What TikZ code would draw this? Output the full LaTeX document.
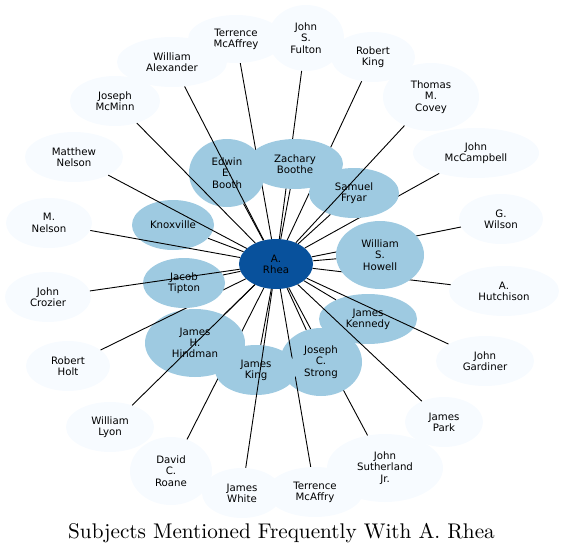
\documentclass[tikz,border=0pt]{standalone}
\usepackage{fontspec}
\newfontfamily\nodefont{DejaVu Sans}
\newfontfamily\titlefont{lmroman10-regular.otf}
\usetikzlibrary{shapes.geometric}
\definecolor{pale}{HTML}{F7FBFF}
\definecolor{mid}{HTML}{9ECAE1}
\definecolor{deep}{HTML}{08519C}
\tikzset{
  nd/.style={ellipse, inner sep=0pt, align=center, font=\nodefont\fontsize{10.2}{11.3}\selectfont},
  lo/.style={nd, fill=pale},
  hi/.style={nd, fill=mid},
  ctr/.style={nd, fill=deep},
  ed/.style={draw=black, line width=0.9pt},
}
\begin{document}
\begin{tikzpicture}[x=1pt,y=-1pt]
\useasboundingbox (0,0) rectangle (564,554);
\node[ctr, minimum width=74pt, minimum height=50pt] (rhea) at (276,264) {A.\\Rhea};

\node[lo, minimum width=96pt, minimum height=48pt] (tmtop) at (236,39) {Terrence\\McAffrey};
\draw[ed] (rhea) -- (tmtop);
\node[lo, minimum width=76pt, minimum height=66pt] (fulton) at (306,38) {John\\S.\\Fulton};
\draw[ed] (rhea) -- (fulton);
\node[lo, minimum width=84pt, minimum height=50pt] (rking) at (373,57) {Robert\\King};
\draw[ed] (rhea) -- (rking);
\node[hi, minimum width=82pt, minimum height=50pt] (knox) at (173,225) {Knoxville};
\draw[ed] (rhea) -- (knox);
\node[lo, minimum width=98pt, minimum height=50pt] (mnelson) at (74,157) {Matthew\\Nelson};
\draw[ed] (rhea) -- (mnelson);
\node[hi, minimum width=76pt, minimum height=68pt] (edwin) at (227,173) {Edwin\\E.\\Booth};
\draw[ed] (rhea) -- (edwin);
\node[hi, minimum width=96pt, minimum height=50pt] (zach) at (295,164) {Zachary\\Boothe};
\draw[ed] (rhea) -- (zach);
\node[lo, minimum width=110pt, minimum height=50pt] (walex) at (172,62) {William\\Alexander};
\draw[ed] (rhea) -- (walex);
\node[lo, minimum width=90pt, minimum height=50pt] (mcminn) at (115,101) {Joseph\\McMinn};
\draw[ed] (rhea) -- (mcminn);
\node[lo, minimum width=126pt, minimum height=50pt] (mccamp) at (476,153) {John\\McCampbell};
\draw[ed] (rhea) -- (mccamp);
\node[hi, minimum width=90pt, minimum height=50pt] (fryar) at (354,193) {Samuel\\Fryar};
\draw[ed] (rhea) -- (fryar);
\node[lo, minimum width=96pt, minimum height=68pt] (covey) at (431,97) {Thomas\\M.\\Covey};
\draw[ed] (rhea) -- (covey);
\node[lo, minimum width=84pt, minimum height=50pt] (gwilson) at (501,219) {G.\\Wilson};
\draw[ed] (rhea) -- (gwilson);
\node[lo, minimum width=110pt, minimum height=50pt] (hutch) at (504,291) {A.\\Hutchison};
\draw[ed] (rhea) -- (hutch);
\node[hi, minimum width=88pt, minimum height=68pt] (howell) at (380,255) {William\\S.\\Howell};
\draw[ed] (rhea) -- (howell);
\node[hi, minimum width=98pt, minimum height=50pt] (kennedy) at (368,319) {James\\Kennedy};
\draw[ed] (rhea) -- (kennedy);
\node[lo, minimum width=98pt, minimum height=50pt] (gardiner) at (485,361) {John\\Gardiner};
\draw[ed] (rhea) -- (gardiner);
\node[lo, minimum width=78pt, minimum height=50pt] (park) at (444,422) {James\\Park};
\draw[ed] (rhea) -- (park);
\node[lo, minimum width=116pt, minimum height=68pt] (suther) at (385,468) {John\\Sutherland\\Jr.};
\draw[ed] (rhea) -- (suther);
\node[hi, minimum width=82pt, minimum height=68pt] (strong) at (321,362) {Joseph\\C.\\Strong};
\draw[ed] (rhea) -- (strong);
\node[lo, minimum width=96pt, minimum height=50pt] (tmbot) at (315,492) {Terrence\\McAffry};
\draw[ed] (rhea) -- (tmbot);
\node[lo, minimum width=82pt, minimum height=68pt] (roane) at (171,471) {David\\C.\\Roane};
\draw[ed] (rhea) -- (roane);
\node[hi, minimum width=82pt, minimum height=50pt] (jking) at (256,370) {James\\King};
\draw[ed] (rhea) -- (jking);
\node[lo, minimum width=80pt, minimum height=50pt] (jwhite) at (242,493) {James\\White};
\draw[ed] (rhea) -- (jwhite);
\node[hi, minimum width=100pt, minimum height=68pt] (hindman) at (195,343) {James\\H.\\Hindman};
\draw[ed] (rhea) -- (hindman);
\node[lo, minimum width=88pt, minimum height=50pt] (lyon) at (110,427) {William\\Lyon};
\draw[ed] (rhea) -- (lyon);
\node[lo, minimum width=84pt, minimum height=50pt] (holt) at (68,366) {Robert\\Holt};
\draw[ed] (rhea) -- (holt);
\node[hi, minimum width=82pt, minimum height=50pt] (tipton) at (184,283) {Jacob\\Tipton};
\draw[ed] (rhea) -- (tipton);
\node[lo, minimum width=86pt, minimum height=50pt] (crozier) at (48,297) {John\\Crozier};
\draw[ed] (rhea) -- (crozier);
\node[lo, minimum width=86pt, minimum height=50pt] (mnel) at (49,223) {M.\\Nelson};
\draw[ed] (rhea) -- (mnel);

\node[font=\titlefont\fontsize{21.2}{25}\selectfont, inner sep=0pt] (title) at (281.5,533) {Subjects Mentioned Frequently With A. Rhea};
\end{tikzpicture}
\end{document}
